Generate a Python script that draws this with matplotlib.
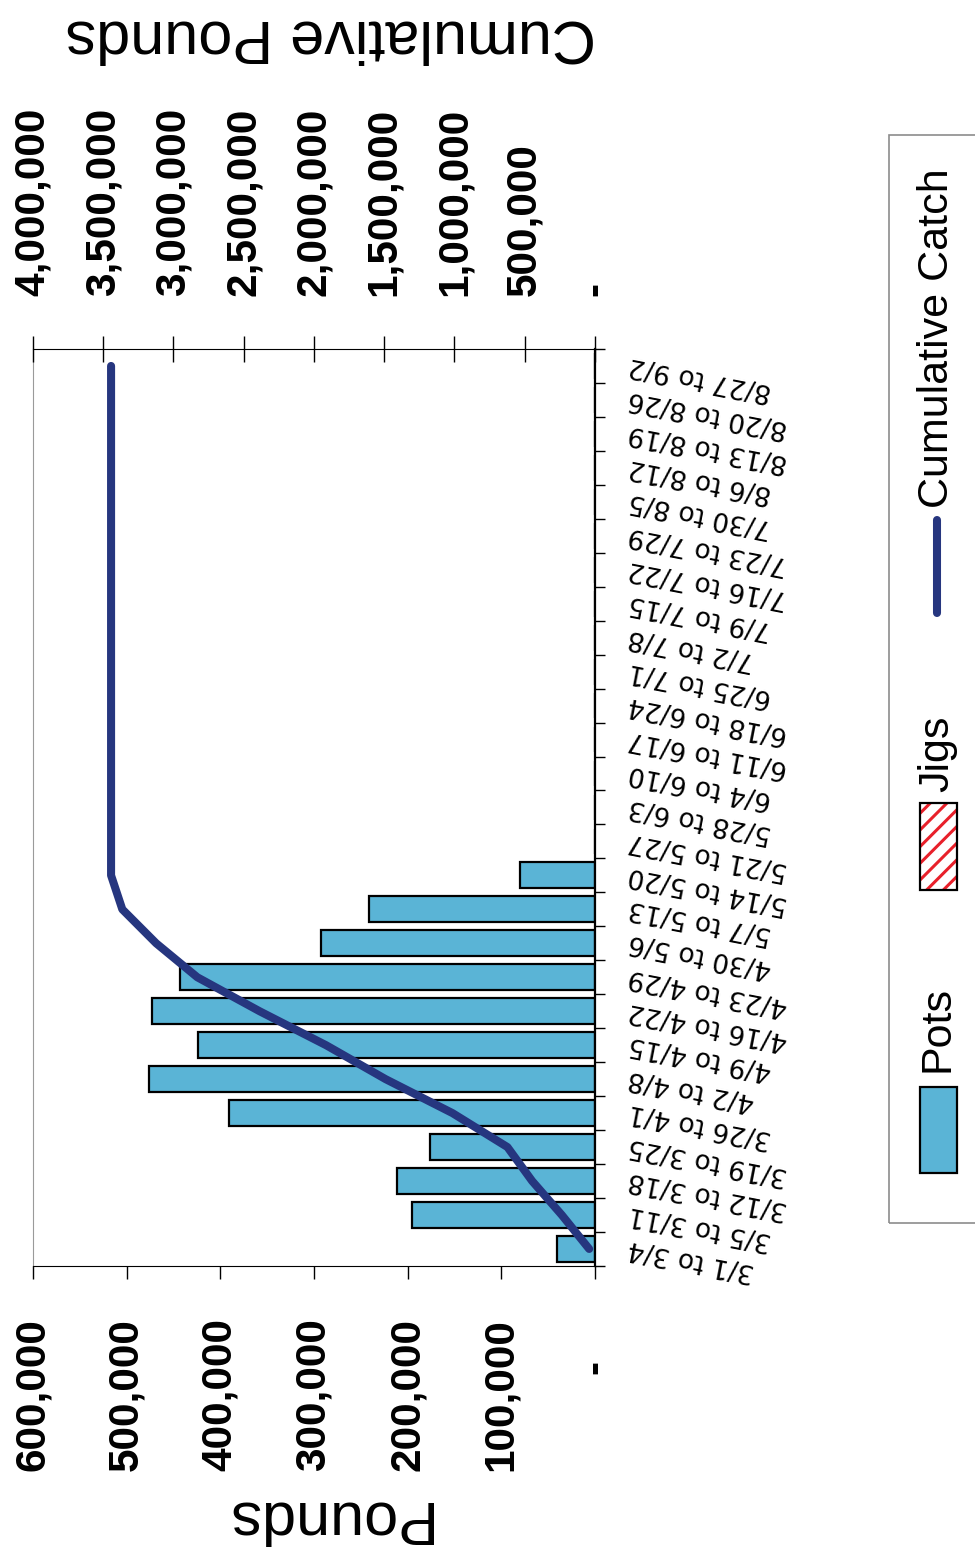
import numpy as np
import matplotlib
matplotlib.use('Agg')
import matplotlib.pyplot as plt
from matplotlib.patches import Rectangle
from matplotlib.lines import Line2D

# weekly periods (bottom to top of the rotated chart)
weeks = ['3/1 to 3/4', '3/5 to 3/11', '3/12 to 3/18', '3/19 to 3/25', '3/26 to 4/1',
         '4/2 to 4/8', '4/9 to 4/15', '4/16 to 4/22', '4/23 to 4/29', '4/30 to 5/6',
         '5/7 to 5/13', '5/14 to 5/20', '5/21 to 5/27', '5/28 to 6/3', '6/4 to 6/10',
         '6/11 to 6/17', '6/18 to 6/24', '6/25 to 7/1', '7/2 to 7/8', '7/9 to 7/15',
         '7/16 to 7/22', '7/23 to 7/29', '7/30 to 8/5', '8/6 to 8/12', '8/13 to 8/19',
         '8/20 to 8/26', '8/27 to 9/2']
pots = [41000, 195000, 211000, 176000, 391000, 476000, 424000, 473000, 443000, 293000,
        241000, 80000, 0, 0, 0, 0, 0, 0, 0, 0, 0, 0, 0, 0, 0, 0, 0]
jigs = [0, 0, 0, 0, 0, 0, 0, 0, 0, 0, 0, 0, 0, 0, 0, 0, 0, 0, 0, 0, 0, 0, 0, 0, 0, 0, 0]
cumulative = [41000, 236000, 447000, 623000, 1014000, 1490000, 1914000, 2387000, 2830000,
              3123000, 3364000, 3444000, 3444000, 3444000, 3444000, 3444000, 3444000,
              3444000, 3444000, 3444000, 3444000, 3444000, 3444000, 3444000, 3444000,
              3444000, 3444000]

pounds_ticks = [0, 100000, 200000, 300000, 400000, 500000, 600000]
pounds_labels = ['', '100,000', '200,000', '300,000', '400,000', '500,000', '600,000']
cum_ticks = [0, 500000, 1000000, 1500000, 2000000, 2500000, 3000000, 3500000, 4000000]
cum_labels = ['-', '500,000', '1,000,000', '1,500,000', '2,000,000', '2,500,000',
              '3,000,000', '3,500,000', '4,000,000']

POTS_BLUE = '#5ab4d6'
NAVY = '#26367f'
JIG_RED = '#e8202a'

plt.rcParams['font.family'] = ['Liberation Sans', 'DejaVu Sans']
plt.rcParams['hatch.linewidth'] = 2.2

fig = plt.figure(figsize=(9.75, 15.51), dpi=100)
ax = fig.add_axes([0.0338, 0.1838, 0.5764, 0.5912])

y = np.arange(len(weeks))
ax.barh(y, pots, height=0.76, color=POTS_BLUE, edgecolor='black', linewidth=1.6, zorder=2)
ax.barh(y, jigs, left=pots, height=0.76, facecolor='white', edgecolor=JIG_RED,
        hatch='//', linewidth=0, zorder=2)
ax.set_xlim(600000, 0)
ax.set_ylim(-0.5, len(weeks) - 0.5)

# pounds axis (bottom)
ax.set_xticks(pounds_ticks)
ax.set_xticklabels(pounds_labels, rotation=90, fontsize=30.5, fontweight='bold')
ax.tick_params(axis='x', direction='out', length=9.5, width=1, pad=28)
ax.text(0, -0.110, '-', transform=ax.get_xaxis_transform(), rotation=90,
        ha='center', va='center', fontsize=30.5, fontweight='bold')

# category ticks on the right spine
ax.yaxis.tick_right()
ax.set_yticks(np.arange(len(weeks) + 1) - 0.5)
ax.set_yticklabels([])
ax.tick_params(axis='y', direction='out', length=7, width=1)
for i, lab in enumerate(weeks):
    ax.text(1.060, i + 0.05, lab, transform=ax.get_yaxis_transform(), rotation=169,
            rotation_mode='anchor', ha='right', va='center', fontsize=19,
            family='DejaVu Sans')

ax.spines['top'].set_visible(False)
ax.spines['left'].set_color('#9a9a9a')
ax.spines['right'].set_linewidth(1.6)

# cumulative axis (top)
ax2 = ax.twiny()
ax2.plot(cumulative, y, color=NAVY, linewidth=5.8, solid_capstyle='round',
         solid_joinstyle='round', zorder=3)
ax2.set_xlim(4000000, 0)
ax2.set_xticks(cum_ticks)
ax2.set_xticklabels(cum_labels, rotation=90, fontsize=30.5, fontweight='bold')
ax2.tick_params(axis='x', direction='inout', length=19, width=1, pad=29)
for s in ['left', 'right', 'bottom']:
    ax2.spines[s].set_visible(False)

# axis titles (upside down)
fig.text(0.3395, 0.9768, 'Cumulative Pounds', rotation=180, ha='center', va='center',
         fontsize=44)
fig.text(0.3333, 0.022, 'Pounds', rotation=180, ha='center', va='center', fontsize=44)

# legend, drawn rotated
def fx(px):
    return px / 975

def fy(py):
    return 1 - py / 1551

fig.add_artist(Rectangle((fx(889), fy(1223)), fx(120), 1088 / 1551, transform=fig.transFigure,
                         facecolor='none', edgecolor='#8c8c8c', linewidth=1.2))
fig.add_artist(Rectangle((fx(920), fy(1173)), fx(37), 86 / 1551, transform=fig.transFigure,
                         facecolor=POTS_BLUE, edgecolor='black', linewidth=1.6))
fig.add_artist(Rectangle((fx(920), fy(890)), fx(37), 87 / 1551, transform=fig.transFigure,
                         facecolor='white', edgecolor=JIG_RED, hatch='//', linewidth=0))
fig.add_artist(Rectangle((fx(920), fy(890)), fx(37), 87 / 1551, transform=fig.transFigure,
                         facecolor='none', edgecolor='black', linewidth=1.6))
fig.add_artist(Line2D([fx(937), fx(937)], [fy(613), fy(520)], transform=fig.transFigure,
                      color=NAVY, linewidth=5.8, solid_capstyle='round'))
for txt, start in [('Pots', 1072), ('Jigs', 792), ('Cumulative Catch', 508)]:
    fig.text(fx(937), fy(start), txt, rotation=90, ha='center', va='bottom', fontsize=31)

fig.savefig('out.png', dpi=100)
